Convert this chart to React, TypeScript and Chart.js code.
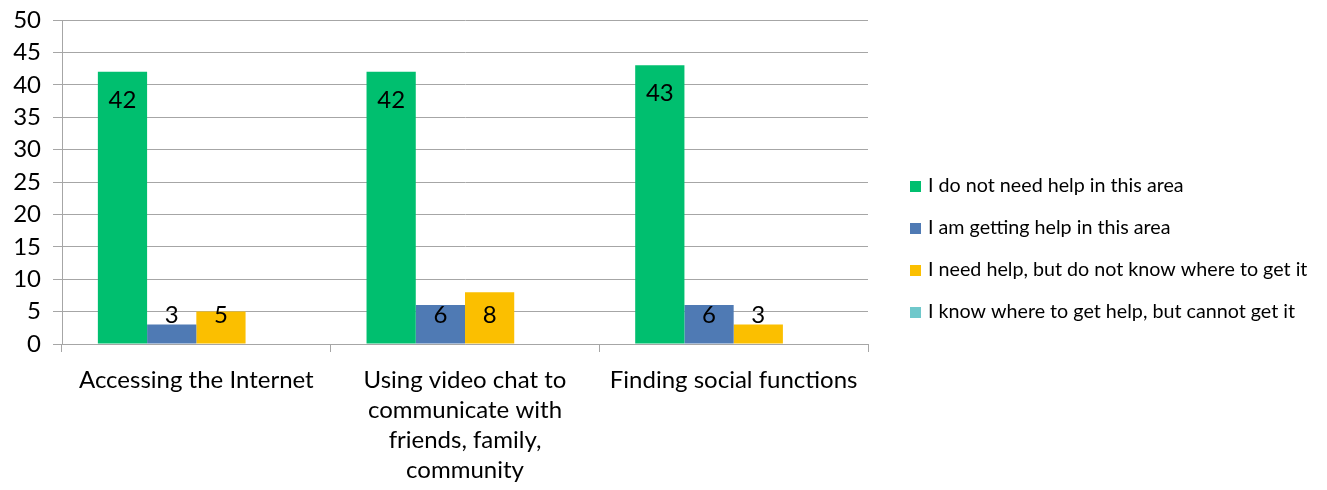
import React, { useEffect, useRef } from "react";
import { Chart, registerables } from "chart.js";

Chart.register(...registerables);

const categories: string[][] = [
  ["Accessing the Internet"],
  ["Using video chat to", "communicate with", "friends, family,", "community"],
  ["Finding social functions"],
];

const seriesNames = [
  "I do not need help in this area",
  "I am getting help in this area",
  "I need help, but do not know where to get it",
  "I know where to get help, but cannot get it",
];

const noHelpNeeded = [42, 42, 43];
const gettingHelp = [3, 6, 6];
const needHelpDontKnow = [5, 8, 3];
const knowButCannot: (number | null)[] = [null, null, null];

const seriesColors = ["#00bf6f", "#4f7ab4", "#fbbf00", "#6fc8cb"];

const yTicks = [0, 5, 10, 15, 20, 25, 30, 35, 40, 45, 50];

const FONT = "Lato, 'Noto Sans', sans-serif";

const valueLabels = {
  id: "valueLabels",
  afterDatasetsDraw(chart: any) {
    const ctx = chart.ctx;
    ctx.save();
    ctx.font = `24px ${FONT}`;
    ctx.fillStyle = "#000";
    ctx.textAlign = "center";
    ctx.textBaseline = "middle";
    chart.data.datasets.forEach((ds: any, di: number) => {
      const meta = chart.getDatasetMeta(di);
      meta.data.forEach((el: any, i: number) => {
        const v = ds.data[i];
        if (v === null || v === undefined) return;
        const y = Math.min(el.y + 28, el.base - 28);
        ctx.fillText(String(v), el.x, y);
      });
    });
    ctx.restore();
  },
};

const sideLegend = {
  id: "sideLegend",
  afterDraw(chart: any) {
    const ctx = chart.ctx;
    ctx.save();
    ctx.font = `19.7px ${FONT}`;
    ctx.textAlign = "left";
    ctx.textBaseline = "middle";
    chart.data.datasets.forEach((ds: any, i: number) => {
      const y = 186 + i * 42;
      ctx.fillStyle = ds.backgroundColor;
      ctx.fillRect(910, y - 5, 11, 11);
      ctx.fillStyle = "#000";
      ctx.fillText(ds.label, 928, y);
    });
    ctx.restore();
  },
};

export default function App() {
  const ref = useRef<HTMLCanvasElement | null>(null);
  useEffect(() => {
    if (!ref.current) return;
    const data = [noHelpNeeded, gettingHelp, needHelpDontKnow, knowButCannot];
    const chart = new Chart(ref.current, {
      type: "bar",
      data: {
        labels: categories as any,
        datasets: data.map((d, i) => ({
          label: seriesNames[i],
          data: d as any,
          backgroundColor: seriesColors[i],
          borderWidth: 0,
          categoryPercentage: 0.733,
          barPercentage: 1,
        })),
      },
      options: {
        animation: false,
        responsive: false,
        maintainAspectRatio: false,
        layout: { padding: { top: 20, right: 459, left: 0, bottom: 0 } },
        plugins: {
          legend: { display: false },
          tooltip: { enabled: false },
          title: { display: false },
        },
        scales: {
          x: {
            grid: {
              drawOnChartArea: false,
              drawTicks: true,
              tickLength: 8,
              color: "#a6a6a6",
              offset: true,
            },
            border: { color: "#a6a6a6" },
            ticks: {
              color: "#000",
              font: { family: FONT, size: 24, lineHeight: 1.25 },
              padding: 13,
              maxRotation: 0,
              autoSkip: false,
            },
            afterFit(scale: any) {
              scale.height = 146;
              scale.paddingLeft = 0;
              scale.paddingRight = 0;
            },
          },
          y: {
            min: 0,
            max: 50,
            afterBuildTicks(scale: any) {
              scale.ticks = yTicks.map((v) => ({ value: v }));
            },
            grid: { color: "#a6a6a6", tickLength: 9 },
            border: { color: "#a6a6a6" },
            ticks: {
              color: "#000",
              font: { family: FONT, size: 24 },
              padding: 12,
              autoSkip: false,
            },
            afterFit(scale: any) {
              scale.width = 62;
              scale.paddingTop = 0;
              scale.paddingBottom = 0;
            },
          },
        },
      },
      plugins: [valueLabels, sideLegend],
    });
    return () => chart.destroy();
  }, []);
  return (
    <div style={{ position: "fixed", left: 0, top: 0, width: 1327, height: 490, background: "#fff" }}>
      <canvas ref={ref} width={1327} height={490} style={{ width: 1327, height: 490 }} />
    </div>
  );
}
